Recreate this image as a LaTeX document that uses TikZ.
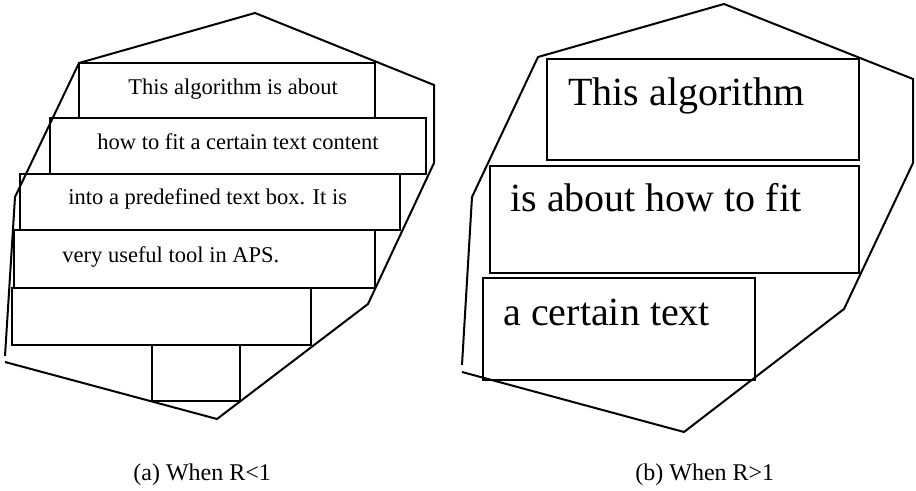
\documentclass[tikz,border=0pt]{standalone}
\usepackage{fontspec}
\setmainfont{Liberation Serif}
\usetikzlibrary{fit}
\tikzset{tbox/.style={draw, line width=1pt, inner sep=0pt}}
\tikzset{hull/.style={draw, line width=1pt, line join=miter}}
\tikzset{small/.style={anchor=base west, inner sep=0pt, font=\fontsize{11.25}{13}\selectfont}}
\tikzset{big/.style={anchor=base west, inner sep=0pt, font=\fontsize{20}{24}\selectfont}}
\tikzset{subcap/.style={anchor=base west, inner sep=0pt, font=\fontsize{12}{14}\selectfont}}
\begin{document}
\begin{tikzpicture}[x=0.5pt, y=-0.5pt]
    \useasboundingbox (0,0) rectangle (916,491);

    %% (a) R<1
    \draw[hull] (5,362) -- (217,419) -- (368,304) -- (434,163) -- (434,85)
        -- (255,13) -- (79,63) -- (15,197) -- (5,356);

    \node[tbox, fit={(79,63) (375,118)}] (a1) {};
    \node[tbox, fit={(50,118) (426,174)}] (a2) {};
    \node[tbox, fit={(20,174) (400,230)}] (a3) {};
    \node[tbox, fit={(14,230) (375,288)}] (a4) {};
    \node[tbox, fit={(12,288) (311,345)}] (a5) {};
    \node[tbox, fit={(152,345) (240,401)}] (a6) {};

    \node[small] (ta1) at (128,95) {This algorithm is about};
    \node[small] (ta2) at (97,150) {how to fit a certain text content};
    \node[small] (ta3) at (68,205) {into a predefined text box. It is};
    \node[small] (ta4) at (62,263) {very useful tool in APS.};

    \node[subcap] (capa) at (133,481) {(a) When R<1};

    %% (b) R>1
    \draw[hull] (462,372) -- (684,432) -- (844,309) -- (913,163) -- (913,79)
        -- (724,4) -- (538,57) -- (472,197) -- (462,365);

    \node[tbox, fit={(547,59) (859,160)}] (b1) {};
    \node[tbox, fit={(490,166) (859,273)}] (b2) {};
    \node[tbox, fit={(483,278) (755,380)}] (b3) {};

    \node[big] (tb1) at (568,106) {This algorithm};
    \node[big] (tb2) at (510,212) {is about how to fit};
    \node[big] (tb3) at (503,326) {a certain text};

    \node[subcap] (capb) at (635,481) {(b) When R>1};

\end{tikzpicture}
\end{document}
